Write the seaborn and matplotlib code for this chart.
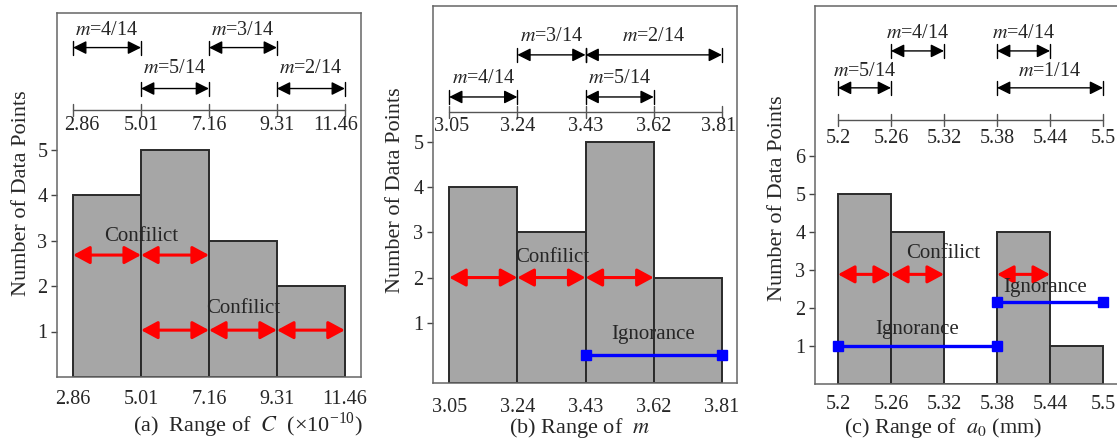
import numpy as np
import pandas as pd
import matplotlib
matplotlib.use("Agg")
import matplotlib.pyplot as plt
import seaborn as sns
from matplotlib import transforms

sns.set_style("ticks")
plt.rcParams["font.family"] = ["Liberation Serif", "DejaVu Serif"]
plt.rcParams["mathtext.fontset"] = "stix"

# ---------------- data ----------------
a_edges = [2.86, 5.01, 7.16, 9.31, 11.46]
a_counts = [4, 5, 3, 2]
a_tick_labels = ["2.86", "5.01", "7.16", "9.31", "11.46"]
a_m_intervals = [(2.86, 5.01, "4/14", 1), (5.01, 7.16, "5/14", 0),
                 (7.16, 9.31, "3/14", 1), (9.31, 11.46, "2/14", 0)]
a_conflict = [(2.86, 5.01, 2.68), (5.01, 7.16, 2.68),
              (5.01, 7.16, 1.03), (7.16, 9.31, 1.03), (9.31, 11.46, 1.03)]
a_conflict_text = [(5.01, 3.09), (8.24, 1.51)]
a_ignorance = []
a_ignorance_text = []

b_edges = [3.05, 3.24, 3.43, 3.62, 3.81]
b_counts = [4, 3, 5, 2]
b_tick_labels = ["3.05", "3.24", "3.43", "3.62", "3.81"]
b_m_intervals = [(3.05, 3.24, "4/14", 0), (3.24, 3.43, "3/14", 1),
                 (3.43, 3.62, "5/14", 0), (3.43, 3.81, "2/14", 1)]
b_conflict = [(3.05, 3.24, 2.0), (3.24, 3.43, 2.0), (3.43, 3.62, 2.0)]
b_conflict_text = [(3.337, 2.44)]
b_ignorance = [(3.43, 3.81, 0.29)]
b_ignorance_text = [(3.618, 0.74)]

c_edges = [5.2, 5.26, 5.32, 5.38, 5.44, 5.5]
c_counts = [5, 4, 0, 4, 1]
c_tick_labels = ["5.2", "5.26", "5.32", "5.38", "5.44", "5.5"]
c_m_intervals = [(5.2, 5.26, "5/14", 0), (5.26, 5.32, "4/14", 1),
                 (5.38, 5.44, "4/14", 1), (5.38, 5.5, "1/14", 0)]
c_conflict = [(5.2, 5.26, 2.88), (5.26, 5.32, 2.88), (5.38, 5.44, 2.88)]
c_conflict_text = [(5.319, 3.43)]
c_ignorance = [(5.2, 5.38, 1.0), (5.38, 5.5, 2.15)]
c_ignorance_text = [(5.289, 1.42), (5.434, 2.54)]

# ---------------- layout ----------------
W, H = 1117, 441
fig = plt.figure(figsize=(W / 100, H / 100), dpi=100)


def add_ax(l, t, r, b):
    return fig.add_axes([l / W, 1 - b / H, (r - l) / W, (b - t) / H])


def panel(ax, edges, counts, labels, m_int, conflict, conflict_text,
          ignorance, ignorance_text, xlim, ylim, yticks,
          nl_y, nl_lab_y, arr_y, txt_y, unit_px, xpad, label_shift):
    df = pd.DataFrame({"x": [(edges[i] + edges[i + 1]) / 2 for i in range(len(counts))],
                       "w": counts})
    sns.histplot(data=df, x="x", weights="w", bins=edges, ax=ax,
                 color="#a6a6a6", edgecolor="#2a2a2a", linewidth=1.4, alpha=1.0)
    ax.set_xlim(*xlim)
    ax.set_ylim(*ylim)
    for p in ax.patches:
        h = p.get_height()
        p.set_y(ylim[0])
        p.set_height(h - ylim[0] if h > 0 else 0)
    ax.set_xlabel("")
    ax.set_ylabel("")
    ax.set_xticks(edges)
    ax.set_xticklabels(labels)
    ax.set_yticks(yticks)
    ax.tick_params(axis="x", length=0, pad=xpad, labelsize=14.5)
    ax.tick_params(axis="y", length=4, width=1, pad=3, labelsize=14.5,
                   direction="out", color="#444")
    for s in ax.spines.values():
        s.set_visible(True)
        s.set_color("#666666")
        s.set_linewidth(1.1)

    d = 1.0 / unit_px  # data units per pixel (y)
    # number line
    ax.plot([edges[0], edges[-1]], [nl_y, nl_y], color="#555555", lw=1.0)
    for i, e in enumerate(edges):
        ax.plot([e, e], [nl_y - 6 * d, nl_y + 6 * d], color="#555555", lw=1.0)
        off = 0
        if i == 0:
            off = label_shift[0]
        elif i == len(edges) - 1:
            off = label_shift[1]
        tr = transforms.offset_copy(ax.transData, fig=fig, x=off * 0.72, y=0, units="points")
        ax.text(e, nl_lab_y, labels[i], ha="center", va="center", fontsize=14.5, transform=tr)
    # m arrows
    for x0, x1, lab, row in m_int:
        y = arr_y[row]
        ax.annotate("", xy=(x1, y), xytext=(x0, y),
                    arrowprops=dict(arrowstyle="<|-|>,head_length=0.8,head_width=0.4",
                                    color="black", lw=1.0, mutation_scale=10,
                                    shrinkA=0, shrinkB=0))
        for xe in (x0, x1):
            ax.plot([xe, xe], [y - 7 * d, y + 7 * d], color="black", lw=1.0)
        ax.text((x0 + x1) / 2, txt_y[row], r"$m$=" + lab, ha="center", va="center",
                fontsize=14.5)
    # conflict arrows
    for x0, x1, y in conflict:
        ax.annotate("", xy=(x1, y), xytext=(x0, y),
                    arrowprops=dict(arrowstyle="<|-|>,head_length=0.5,head_width=0.27",
                                    color="#ff0000", lw=2.2, mutation_scale=20,
                                    shrinkA=0, shrinkB=0))
    for x, y in conflict_text:
        ax.text(x, y, "Confilict", ha="center", va="center", fontsize=15)
    for x0, x1, y in ignorance:
        ax.plot([x0, x1], [y, y], color="#0000ff", lw=2.4, marker="s", markersize=7,
                clip_on=False)
    for x, y in ignorance_text:
        ax.text(x, y, "Ignorance", ha="center", va="center", fontsize=15)


ax_a = add_ax(57, 13, 361, 377)
panel(ax_a, a_edges, a_counts, a_tick_labels, a_m_intervals, a_conflict,
      a_conflict_text, a_ignorance, a_ignorance_text,
      xlim=(2.35, 11.97), ylim=(0, 8), yticks=[1, 2, 3, 4, 5],
      nl_y=5.86, nl_lab_y=5.53, arr_y=(6.34, 7.24), txt_y=(6.78, 7.62),
      unit_px=45.5, xpad=9, label_shift=(9, -9))

ax_b = add_ax(433, 6, 737, 383)
panel(ax_b, b_edges, b_counts, b_tick_labels, b_m_intervals, b_conflict,
      b_conflict_text, b_ignorance, b_ignorance_text,
      xlim=(3.005, 3.852), ylim=(-0.33, 8.0), yticks=[1, 2, 3, 4, 5],
      nl_y=5.66, nl_lab_y=5.33, arr_y=(5.99, 6.92), txt_y=(6.40, 7.32),
      unit_px=45.2, xpad=11, label_shift=(2, -3))

ax_c = add_ax(815, 6, 1119, 384)
panel(ax_c, c_edges, c_counts, c_tick_labels, c_m_intervals, c_conflict,
      c_conflict_text, c_ignorance, c_ignorance_text,
      xlim=(5.174, 5.518), ylim=(0.0, 9.93), yticks=[1, 2, 3, 4, 5, 6],
      nl_y=6.94, nl_lab_y=6.45, arr_y=(7.78, 8.75), txt_y=(8.22, 9.2),
      unit_px=38.2, xpad=8, label_shift=(0, 0))

# axis titles
for x, y in [(22, 193), (395, 190), (777, 198)]:
    fig.text(x / W, 1 - y / H, "Number of Data Points", rotation=90,
             ha="center", va="center", fontsize=16)
fig.text(248 / W, 1 - 425 / H, r"(a)  Range of  $C$  (×10$^{\mathregular{-10}}$)",
         ha="center", va="center", fontsize=16)
fig.text(580 / W, 1 - 428 / H, r"(b) Range of  $m$", ha="center", va="center", fontsize=16)
fig.text(943 / W, 1 - 428 / H, r"(c) Range of  $a_0$ (mm)", ha="center", va="center",
         fontsize=16)

fig.savefig("out.png", dpi=100)
